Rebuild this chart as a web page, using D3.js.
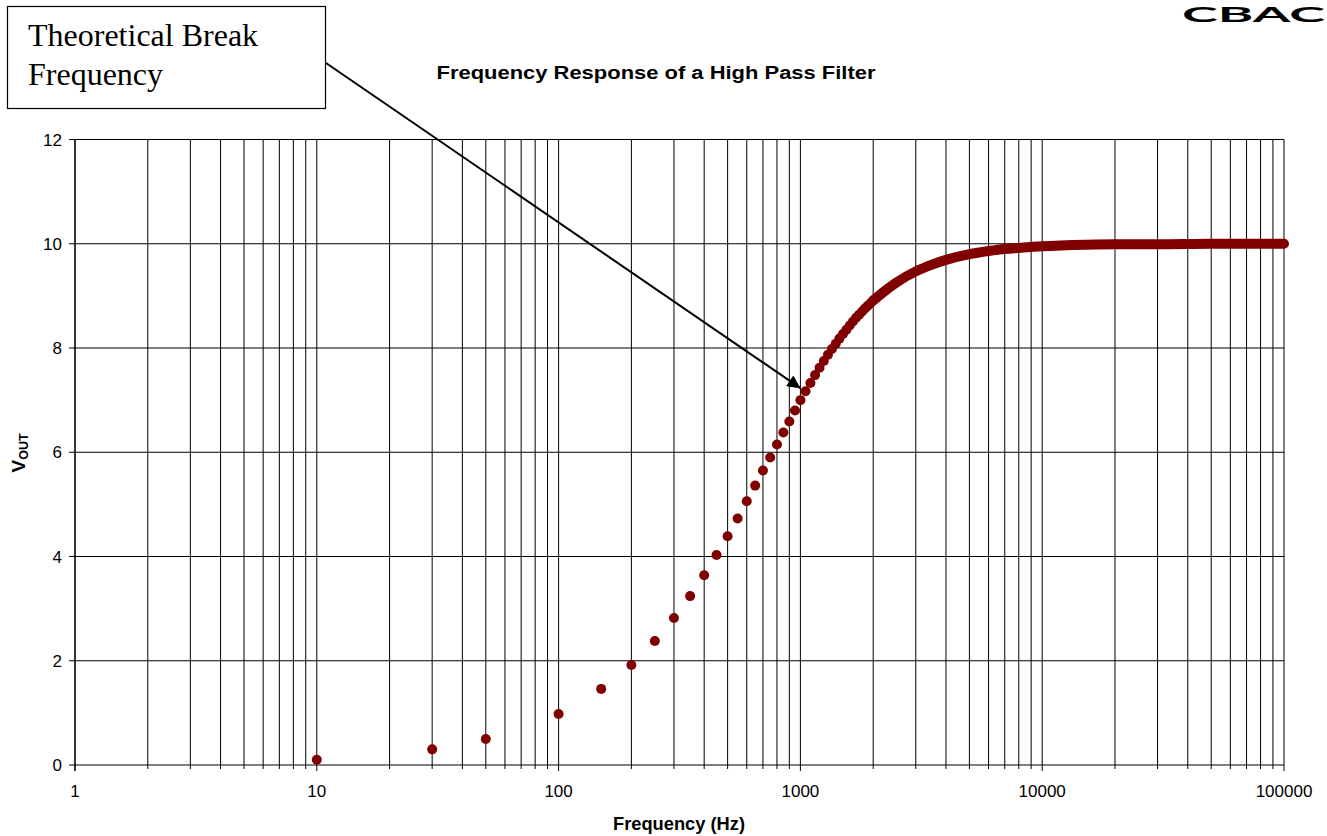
<!DOCTYPE html>
<html lang="en">
	<head>
		<meta charset="utf-8">
		<script src="https://d3js.org/d3.v7.min.js"></script>
		<style>
			body { margin: 0; background: #fff; }
			text { font-family: "Liberation Sans", Arial, sans-serif; fill: #000; }
		</style>
	</head>
	<body>
		<script type="text/javascript">

			//Width and height
			var w = 1327;
			var h = 836;

			//Measured points (step of 50 Hz, the first few sparse)
			var sparseFreq = [10, 30, 50, 100, 150, 200, 250, 300, 350, 400, 450, 500, 550, 600, 650, 700, 750, 800, 850, 900, 950, 1000,
			                  1050, 1100, 1150, 1200, 1250, 1300, 1350, 1400, 1450, 1500, 1550, 1600, 1650, 1700, 1750, 1800, 1850, 1900, 1950, 2000];
			var sparseVout = [0.10, 0.30, 0.50, 0.98, 1.46, 1.92, 2.38, 2.82, 3.24, 3.64, 4.03, 4.39, 4.73, 5.06, 5.36, 5.65, 5.90, 6.15, 6.38, 6.59, 6.80, 7.00,
			                  7.17, 7.33, 7.48, 7.62, 7.75, 7.87, 7.98, 8.08, 8.18, 8.27, 8.35, 8.43, 8.51, 8.58, 8.64, 8.70, 8.76, 8.81, 8.86, 8.91];

			//Dense part of the series, where the dots merge into a band
			var bandFreq = [2000, 2200, 2500, 3000, 3500, 4000, 5000, 6000, 7000, 8000, 10000, 15000, 20000, 30000, 50000, 100000];
			var bandVout = [8.91, 9.07, 9.26, 9.47, 9.60, 9.69, 9.80, 9.86, 9.90, 9.92, 9.95, 9.98, 9.99, 9.99, 10.0, 10.0];

			//Axis ticks
			var xTickLabels = [1, 10, 100, 1000, 10000, 100000];
			var yTicks = [0, 2, 4, 6, 8, 10, 12];

			var chartTitle = "Frequency Response of a High Pass Filter";
			var xTitle = "Frequency (Hz)";
			var noteLines = ["Theoretical Break", "Frequency"];

			var dotColor = "#800000";

			//Scales
			var x = d3.scaleLog()
					  .domain([1, 100000])
					  .range([75, 1284]);

			var y = d3.scaleLinear()
					  .domain([0, 12])
					  .range([765, 139.5]);

			//Create SVG element
			var svg = d3.select("body")
						.append("svg")
						.attr("width", w)
						.attr("height", h);

			//all the 1..9 x 10^k grid positions
			var gridFreq = [];
			xTickLabels.forEach(function(d) {
				if (d === 100000) { gridFreq.push(d); return; }
				for (var k = 1; k < 10; k++) gridFreq.push(d * k);
			});

			//Vertical gridlines
			svg.append("g")
			   .selectAll("line")
			   .data(gridFreq)
			   .enter()
			   .append("line")
			   .attr("x1", function(d) { return x(d); })
			   .attr("x2", function(d) { return x(d); })
			   .attr("y1", y(12))
			   .attr("y2", function(d) { return y(0) + (xTickLabels.indexOf(d) >= 0 ? 6 : 4); })
			   .style("stroke", "#000")
			   .style("stroke-width", 1);

			//Horizontal gridlines + y ticks
			svg.append("g")
			   .selectAll("line")
			   .data(yTicks)
			   .enter()
			   .append("line")
			   .attr("x1", x(1) - 6)
			   .attr("x2", x(100000))
			   .attr("y1", function(d) { return y(d); })
			   .attr("y2", function(d) { return y(d); })
			   .style("stroke", "#000")
			   .style("stroke-width", 1);

			//Left axis
			svg.append("line")
			   .attr("x1", x(1)).attr("x2", x(1))
			   .attr("y1", y(12)).attr("y2", y(0) + 6)
			   .style("stroke", "#000")
			   .style("stroke-width", 1.2);

			//Tick labels
			svg.append("g")
			   .selectAll("text")
			   .data(yTicks)
			   .enter()
			   .append("text")
			   .attr("x", x(1) - 13)
			   .attr("y", function(d) { return y(d) + 6; })
			   .attr("text-anchor", "end")
			   .style("font-size", "17px")
			   .text(function(d) { return d; });

			svg.append("g")
			   .selectAll("text")
			   .data(xTickLabels)
			   .enter()
			   .append("text")
			   .attr("x", function(d) { return x(d); })
			   .attr("y", 797)
			   .attr("text-anchor", "middle")
			   .style("font-size", "17px")
			   .text(function(d) { return d; });

			//Titles
			svg.append("text")
			   .attr("x", 656)
			   .attr("y", 79)
			   .attr("text-anchor", "middle")
			   .attr("textLength", 439)
			   .attr("lengthAdjust", "spacingAndGlyphs")
			   .style("font-size", "18px")
			   .style("font-weight", "bold")
			   .text(chartTitle);

			svg.append("text")
			   .attr("x", 679)
			   .attr("y", 830)
			   .attr("text-anchor", "middle")
			   .attr("textLength", 132)
			   .attr("lengthAdjust", "spacingAndGlyphs")
			   .style("font-size", "18px")
			   .style("font-weight", "bold")
			   .text(xTitle);

			var yt = svg.append("text")
						.attr("transform", "translate(25,453) rotate(-90)")
						.attr("text-anchor", "middle")
						.style("font-weight", "bold");
			yt.append("tspan").style("font-size", "19px").text("V");
			yt.append("tspan").attr("dy", 3).style("font-size", "12.5px").text("OUT");

			//Dense band of points
			var line = d3.line()
						 .x(function(d, i) { return x(bandFreq[i]); })
						 .y(function(d) { return y(d); })
						 .curve(d3.curveMonotoneX);

			svg.append("path")
			   .datum(bandVout)
			   .attr("d", line)
			   .style("fill", "none")
			   .style("stroke", dotColor)
			   .style("stroke-width", 10)
			   .style("stroke-linecap", "round");

			//Points
			svg.append("g")
			   .selectAll("circle")
			   .data(sparseVout)
			   .enter()
			   .append("circle")
			   .attr("cx", function(d, i) { return x(sparseFreq[i]); })
			   .attr("cy", function(d) { return y(d); })
			   .attr("r", 5)
			   .style("fill", dotColor);

			//Annotation box
			svg.append("rect")
			   .attr("x", 7.5)
			   .attr("y", 6.5)
			   .attr("width", 318)
			   .attr("height", 102)
			   .style("fill", "#fff")
			   .style("stroke", "#000")
			   .style("stroke-width", 1.2);

			svg.append("g")
			   .selectAll("text")
			   .data(noteLines)
			   .enter()
			   .append("text")
			   .attr("x", 28)
			   .attr("y", function(d, i) { return 46 + i * 39; })
			   .style("font-family", "'Liberation Serif', 'Times New Roman', serif")
			   .style("font-size", "32px")
			   .text(function(d) { return d; });

			//Arrow
			svg.append("defs")
			   .append("marker")
			   .attr("id", "head")
			   .attr("viewBox", "0 0 10 10")
			   .attr("refX", 10)
			   .attr("refY", 5)
			   .attr("markerUnits", "userSpaceOnUse")
			   .attr("markerWidth", 17)
			   .attr("markerHeight", 13)
			   .attr("orient", "auto")
			   .append("path")
			   .attr("d", "M0,0L10,5L0,10Z")
			   .style("fill", "#000");

			svg.append("line")
			   .attr("x1", 326)
			   .attr("y1", 63)
			   .attr("x2", x(1000))
			   .attr("y2", y(7.23))
			   .style("stroke", "#000")
			   .style("stroke-width", 2)
			   .attr("marker-end", "url(#head)");

			//Logo in the top right corner
			svg.append("text")
			   .attr("x", 1182)
			   .attr("y", 22)
			   .attr("textLength", 143)
			   .attr("lengthAdjust", "spacingAndGlyphs")
			   .style("font-family", "Lato, 'Open Sans', sans-serif")
			   .style("font-weight", "bold")
			   .style("font-size", "20px")
			   .text("CBAC");

		</script>
	</body>
</html>
